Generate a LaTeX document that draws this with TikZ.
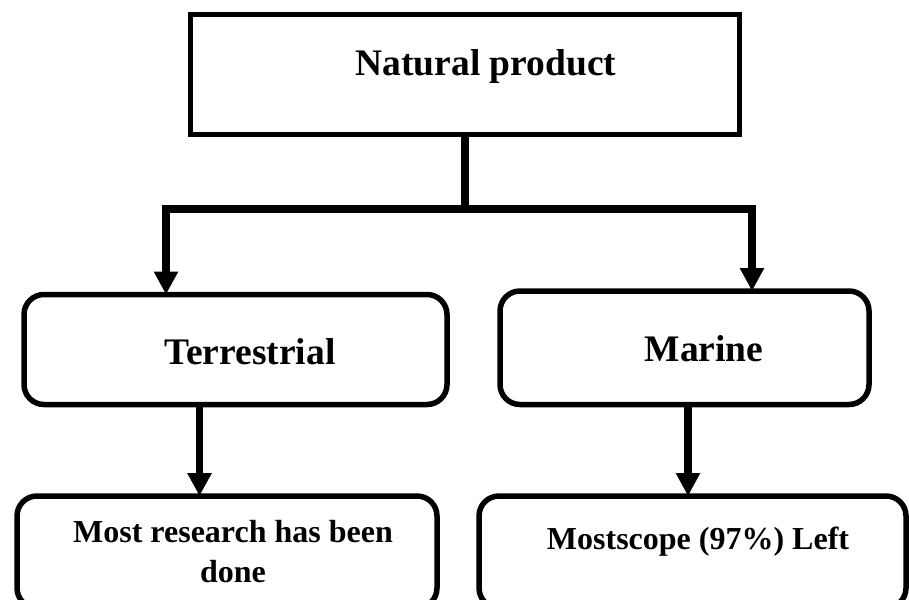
\documentclass[tikz,border=0pt]{standalone}
\usepackage{fontspec}
\setmainfont{Liberation Serif}
\usetikzlibrary{shapes,arrows.meta}

\begin{document}
\begin{tikzpicture}[x=1pt, y=-1pt]
		\tikzstyle {plain box} = [draw, line width=5.5pt, inner sep=0pt, outer sep=0pt]
		\tikzstyle {round box} = [plain box, rounded corners=20pt]
		\tikzstyle {big label} = [anchor=base, font=\fontsize{37.5}{45}\selectfont\bfseries]
		\tikzstyle {small label} = [anchor=base, align=center, font=\fontsize{32}{40}\selectfont\bfseries]
		\tikzstyle {flow line} = [line width=7.5pt]
		\tikzstyle {flow arrow} = [flow line, -{Triangle[width=23pt,length=23pt]}]

		\clip (0,0) rectangle (909,599);

		% boxes
		\node[plain box, minimum width=549pt, minimum height=120pt] (natprod) at (465,74.5) {};
		\node[round box, minimum width=423pt, minimum height=110pt] (terr) at (235.5,349.5) {};
		\node[round box, minimum width=369pt, minimum height=113.5pt] (marine) at (684.5,347.75) {};
		\node[round box, minimum width=420pt, minimum height=112pt] (research) at (227,552) {};
		\node[round box, minimum width=427pt, minimum height=112pt] (scope) at (692.5,552) {};

		% texts (base of a two-line label is its last line)
		\node[big label] (natprod-txt) at (486,76) {Natural product};
		\node[big label] (terr-txt) at (250,364) {Terrestrial};
		\node[big label] (marine-txt) at (704,361) {Marine};
		\node[small label] (research-txt) at (233,582) {Most research has been\\done};
		\node[small label] (scope-txt) at (698,549) {Mostscope (97\%) Left};

		% connectors
		\coordinate (split) at (465,209);
		\coordinate (barL) at (166,209);
		\coordinate (barR) at (752,209);
		\coordinate (tdrop) at (199.5,400);
		\coordinate (mdrop) at (688,400);

		\draw[flow line] (natprod.south) -- (split);
		\draw[flow line, {Triangle[width=23pt,length=23pt]}-{Triangle[width=23pt,length=23pt]}]
			(barL |- terr.north) -- (barL) -- (barR) -- (barR |- marine.north);
		\draw[flow arrow] (terr.south -| tdrop) -- (research.north -| tdrop);
		\draw[flow arrow] (marine.south -| mdrop) -- (scope.north -| mdrop);
\end{tikzpicture}
\end{document}
